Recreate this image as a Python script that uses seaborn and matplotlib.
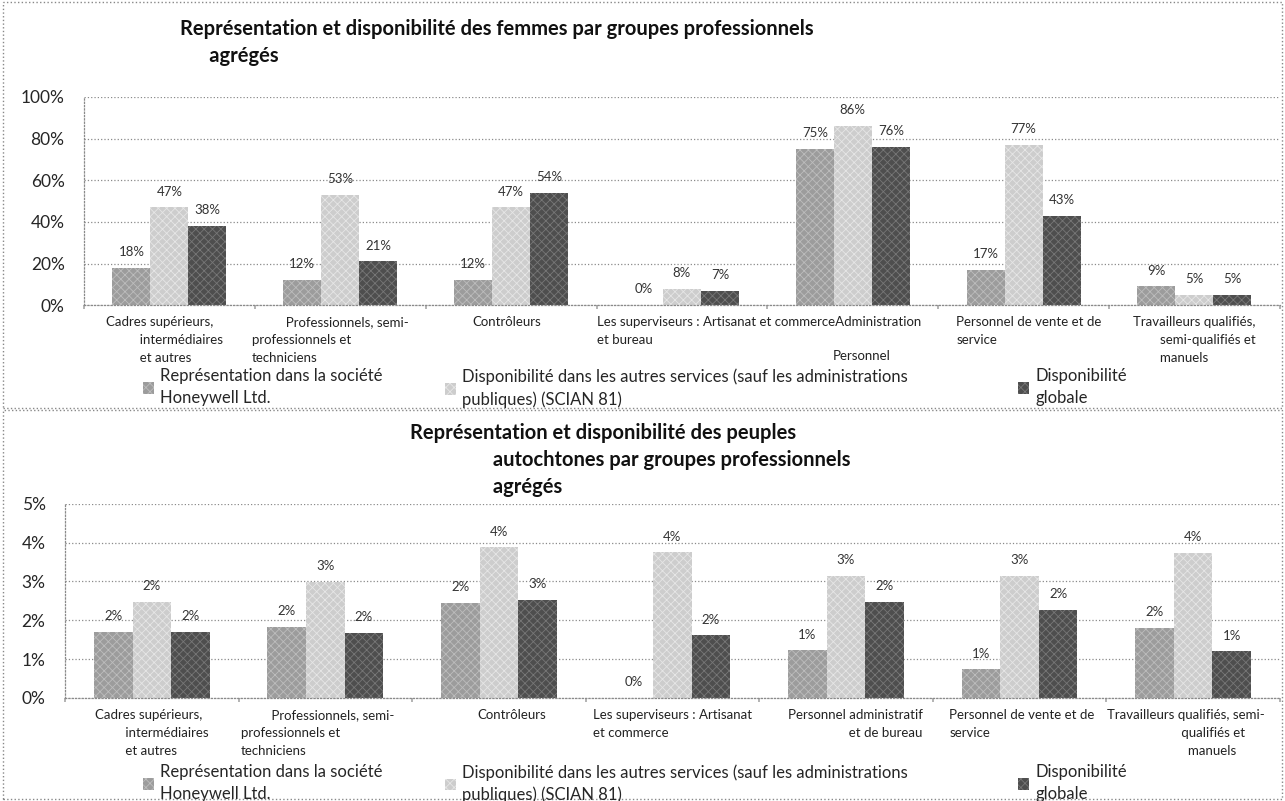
import matplotlib
matplotlib.use("Agg")
import matplotlib.pyplot as plt
from matplotlib.patches import Rectangle
import pandas as pd
import seaborn as sns

# ---- data -------------------------------------------------------------
series = [
    "Représentation dans la société\nHoneywell Ltd.",
    "Disponibilité dans les autres services (sauf les administrations\npubliques) (SCIAN 81)",
    "Disponibilité\nglobale",
]

cats_top = [
    "Cadres supérieurs,\n          intermédiaires\n          et autres",
    "          Professionnels, semi-\nprofessionnels et\ntechniciens",
    "Contrôleurs",
    "Les superviseurs : Artisanat et commerceAdministration\net bureau",
    "Personnel",
    "Personnel de vente et de\nservice",
    "Travailleurs qualifiés,\n        semi-qualifiés et\n        manuels",
]
rep_top = [18, 12, 12, 0, 75, 17, 9]
autres_top = [47, 53, 47, 8, 86, 77, 5]
glob_top = [38, 21, 54, 7, 76, 43, 5]

cats_bot = [
    "Cadres supérieurs,\n         intermédiaires\n         et autres",
    "         Professionnels, semi-\nprofessionnels et\ntechniciens",
    "Contrôleurs",
    "Les superviseurs : Artisanat\net commerce",
    "Personnel administratif\n                  et de bureau",
    "Personnel de vente et de\nservice",
    "Travailleurs qualifiés, semi-\n                      qualifiés et\n                        manuels",
]
rep_bot = [1.71, 1.84, 2.45, 0.0, 1.23, 0.74, 1.81]
autres_bot = [2.47, 2.99, 3.88, 3.75, 3.15, 3.15, 3.74]
glob_bot = [1.71, 1.67, 2.52, 1.61, 2.48, 2.27, 1.20]

title_top = ("Représentation et disponibilité des femmes par groupes professionnels\n"
             "      agrégés")
title_bot = ("Représentation et disponibilité des peuples\n"
             "                 autochtones par groupes professionnels\n"
             "                 agrégés")

# ---- style ------------------------------------------------------------
colors = ["#9c9c9c", "#cdcdcd", "#4e4e4e"]
hatch_colors = ["#bdbdbd", "#e6e6e6", "#777777"]
# category label anchor: (offset from category centre in data units, ha, extra drop in pt)
lab_top = [(-0.371, "left", 0), (-0.518, "left", 0), (-0.026, "center", 0),
           (-0.50, "left", 0), (0.05, "center", 24), (-0.395, "left", 0),
           (-0.36, "left", 0)]
lab_bot = [(-0.327, "left", 0), (-0.486, "left", 0), (0.076, "center", 0),
           (-0.457, "left", 0), (-0.333, "left", 0), (-0.405, "left", 0),
           (-0.495, "left", 0)]
legend_x = [0.111, 0.346, 0.792]

sns.set_theme(style="white")
plt.rcParams["font.family"] = ["Lato", "DejaVu Sans"]
plt.rcParams["hatch.linewidth"] = 0.6


def draw_panel(ax, cats, rep, autres, glob, ymax, ystep, labels_pos):
    df = pd.DataFrame({
        "cat": cats * 3,
        "serie": [series[0]] * 7 + [series[1]] * 7 + [series[2]] * 7,
        "val": rep + autres + glob,
    })
    sns.barplot(data=df, x="cat", y="val", hue="serie", order=cats,
                hue_order=series, palette=colors, saturation=1,
                width=0.667, errorbar=None, legend=False, ax=ax)
    for cont, hc in zip(ax.containers, hatch_colors):
        for bar in cont:
            bar.set_hatch("xxxx")
            bar.set_edgecolor(hc)
            bar.set_linewidth(0)
        ax.bar_label(cont, fmt="{:.0f}%", padding=7, fontsize=9.5,
                     color="#333333")

    ax.set_ylim(0, ymax)
    ax.set_xlim(-0.5, len(cats) - 0.5)
    yt = [ystep * k for k in range(int(round(ymax / ystep)) + 1)]
    ax.set_yticks(yt)
    ax.set_yticklabels([f"{t:.0f}%" for t in yt], fontsize=12.5)
    ax.tick_params(axis="y", length=0, pad=14)
    ax.yaxis.grid(True, linestyle=":", color="#8a8a8a", linewidth=0.9)
    ax.set_axisbelow(True)

    ax.set_xticks([i - 0.5 for i in range(len(cats) + 1)])
    ax.set_xticklabels([])
    ax.tick_params(axis="x", length=3, color="#aaaaaa", bottom=True)
    ax.set_xlabel("")
    ax.set_ylabel("")
    for s in ["top", "right"]:
        ax.spines[s].set_visible(False)
    for s in ["left", "bottom"]:
        ax.spines[s].set_linestyle(":")
        ax.spines[s].set_color("#8a8a8a")
        ax.spines[s].set_linewidth(0.9)

    for i, (lab, (dx, ha, dy)) in enumerate(zip(cats, labels_pos)):
        ax.annotate(lab, xy=(i + dx, 0), xycoords=("data", "axes fraction"),
                    xytext=(0, -8 - dy), textcoords="offset points",
                    ha=ha, va="top", multialignment="left",
                    fontsize=9.5, color="#222222", linespacing=1.6)


fig = plt.figure(figsize=(12.85, 8.01), dpi=100)

ax1 = fig.add_axes([0.0654, 0.619, 0.9306, 0.260])
draw_panel(ax1, cats_top, rep_top, autres_top, glob_top, 100, 20, lab_top)

ax2 = fig.add_axes([0.0506, 0.1286, 0.9454, 0.2424])
draw_panel(ax2, cats_bot, rep_bot, autres_bot, glob_bot, 5, 1, lab_bot)

fig.text(0.140, 0.976, title_top, ha="left", va="top", fontsize=14.5,
         fontweight="bold", linespacing=1.4, color="#111111")
fig.text(0.319, 0.472, title_bot, ha="left", va="top", fontsize=14.5,
         fontweight="bold", linespacing=1.45, color="#111111")

for ax, ytop in [(ax1, 0.540), (ax2, 0.046)]:
    for k in range(3):
        leg = fig.legend(handles=[ax.containers[k]], labels=[series[k]],
                         loc="upper left", bbox_to_anchor=(legend_x[k], ytop),
                         frameon=False, fontsize=12, handlelength=0.7,
                         handleheight=0.7, handletextpad=0.35, borderpad=0,
                         borderaxespad=0)
        for t in leg.get_texts():
            t.set_linespacing(1.45)

# dotted frames around the two chart areas
fig.add_artist(Rectangle((0.002, 0.491), 0.996, 0.507, transform=fig.transFigure,
                         fill=False, linestyle=":", edgecolor="#888888", lw=1))
fig.add_artist(Rectangle((0.002, 0.002), 0.996, 0.486, transform=fig.transFigure,
                         fill=False, linestyle=":", edgecolor="#888888", lw=1))

plt.savefig("out.png", dpi=100)
